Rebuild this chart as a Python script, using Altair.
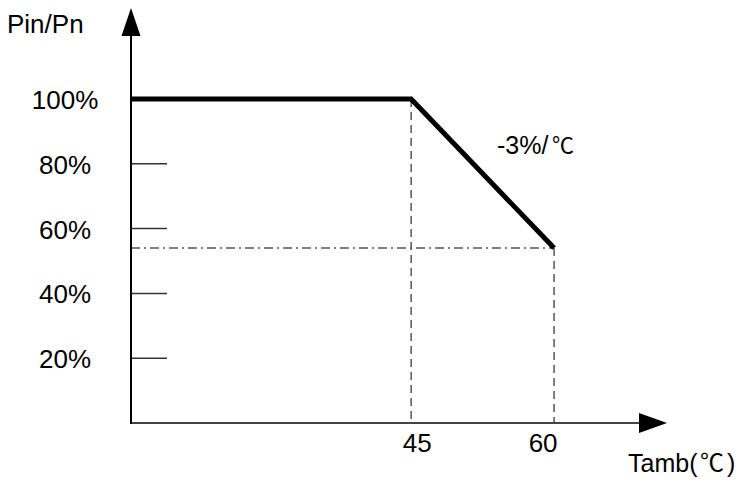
import altair as alt
import pandas as pd

# ---- data ----
temps = [15.6, 45, 60]          # ambient temperature (schematic axis start, knee, end)
power = [100, 100, 54]          # Pin/Pn in %
knee_temps = [45, 60]
knee_power = [100, 54]
tick_values = [0, 20, 40, 60, 80]
label_values = [100, 80, 60, 40, 20]
label_texts = ["100%", "80%", "60%", "40%", "20%"]
x_domain = [15.6, 71.85]
y_domain = [0, 128.1]

W, H = 536, 415
FONT = "Liberation Sans, Arial, Noto Sans CJK SC"
CJK = "Noto Sans CJK SC"

xs = alt.Scale(domain=x_domain, nice=False, zero=False)
ys = alt.Scale(domain=y_domain, nice=False, zero=False)

one = pd.DataFrame({"a": [0]})

curve = alt.Chart(pd.DataFrame({"t": temps, "p": power})).mark_line(
    color="black", strokeWidth=5, strokeJoin="miter", strokeCap="butt"
).encode(
    x=alt.X("t:Q", scale=xs, axis=None),
    y=alt.Y("p:Q", scale=ys, axis=None),
)

vdash = alt.Chart(pd.DataFrame({"t": knee_temps, "p": knee_power, "z": [0, 0]})).mark_rule(
    color="#555555", strokeWidth=1.5, strokeDash=[8, 5]
).encode(
    x=alt.X("t:Q", scale=xs, axis=None),
    y=alt.Y("p:Q", scale=ys, axis=None),
    y2=alt.Y2("z:Q"),
)

hdash = alt.Chart(pd.DataFrame({"t0": [temps[0]], "t1": [knee_temps[1]], "p": [knee_power[1]]})).mark_rule(
    color="#555555", strokeWidth=1.5, strokeDash=[9, 4, 2, 4]
).encode(
    x=alt.X("t0:Q", scale=xs, axis=None),
    x2=alt.X2("t1:Q"),
    y=alt.Y("p:Q", scale=ys, axis=None),
)

ticks = alt.Chart(pd.DataFrame({"v": tick_values})).mark_rule(
    color="#333333", strokeWidth=1.5
).encode(
    y=alt.Y("v:Q", scale=ys, axis=None),
    x=alt.value(0),
    x2=alt.value(36),
)

yaxis = alt.Chart(one).mark_rule(color="black", strokeWidth=2).encode(
    x=alt.value(0), y=alt.value(20), y2=alt.value(H + 1)
)
xaxis = alt.Chart(one).mark_rule(color="#444444", strokeWidth=2).encode(
    x=alt.value(-1), x2=alt.value(W - 20), y=alt.value(H)
)

up_arrow = alt.Chart(one).mark_point(
    shape="M0,0L0.68,2L-0.68,2Z", size=784, filled=True, color="black",
    opacity=1, strokeWidth=0
).encode(x=alt.value(0), y=alt.value(0))

right_arrow = alt.Chart(one).mark_point(
    shape="M0,0L-2,-0.71L-2,0.71Z", size=784, filled=True, color="black",
    opacity=1, strokeWidth=0
).encode(x=alt.value(W), y=alt.value(H))

ylabels = alt.Chart(pd.DataFrame({"v": label_values, "label": label_texts})).mark_text(
    font=FONT, fontSize=26, align="center", baseline="middle", dy=2, color="black"
).encode(
    x=alt.value(-66),
    y=alt.Y("v:Q", scale=ys, axis=None),
    text="label:N",
)

xl45 = alt.Chart(pd.DataFrame({"t": [knee_temps[0]], "label": ["45"]})).mark_text(
    font=FONT, fontSize=26, align="center", baseline="middle", dx=6, color="black"
).encode(x=alt.X("t:Q", scale=xs, axis=None), y=alt.value(H + 21), text="label:N")

xl60 = alt.Chart(pd.DataFrame({"t": [knee_temps[1]], "label": ["60"]})).mark_text(
    font=FONT, fontSize=26, align="center", baseline="middle", dx=-11, color="black"
).encode(x=alt.X("t:Q", scale=xs, axis=None), y=alt.value(H + 21), text="label:N")

ytitle = alt.Chart(one).mark_text(
    font=FONT, fontSize=26, align="left", baseline="alphabetic", color="black"
).encode(x=alt.value(-124), y=alt.value(25), text=alt.value("Pin/Pn"))

xtitle_a = alt.Chart(one).mark_text(
    font=FONT, fontSize=25, align="left", baseline="alphabetic", color="black"
).encode(x=alt.value(497), y=alt.value(464), text=alt.value("Tamb("))
xtitle_b = alt.Chart(one).mark_text(
    font=CJK, fontSize=24, align="left", baseline="alphabetic", color="black"
).encode(x=alt.value(569), y=alt.value(463), text=alt.value("℃"))
xtitle_c = alt.Chart(one).mark_text(
    font=FONT, fontSize=25, align="left", baseline="alphabetic", color="black"
).encode(x=alt.value(596), y=alt.value(464), text=alt.value(")"))

slope_a = alt.Chart(one).mark_text(
    font=FONT, fontSize=25, align="left", baseline="alphabetic", color="black"
).encode(x=alt.value(366), y=alt.value(146), text=alt.value("-3%/"))
slope_b = alt.Chart(one).mark_text(
    font=CJK, fontSize=22, align="left", baseline="alphabetic", color="black"
).encode(x=alt.value(421), y=alt.value(145), text=alt.value("℃"))

chart = alt.layer(
    vdash, hdash, ticks, xaxis, yaxis, curve, up_arrow, right_arrow,
    ylabels, xl45, xl60, ytitle, xtitle_a, xtitle_b, xtitle_c, slope_a, slope_b
).properties(
    width=W, height=H,
    padding={"left": 123, "top": 0, "right": 77, "bottom": 54},
    autosize="none",
    background="white",
).configure_view(strokeWidth=0)

chart.save("out.html", embed_options={"renderer": "svg", "actions": False})
